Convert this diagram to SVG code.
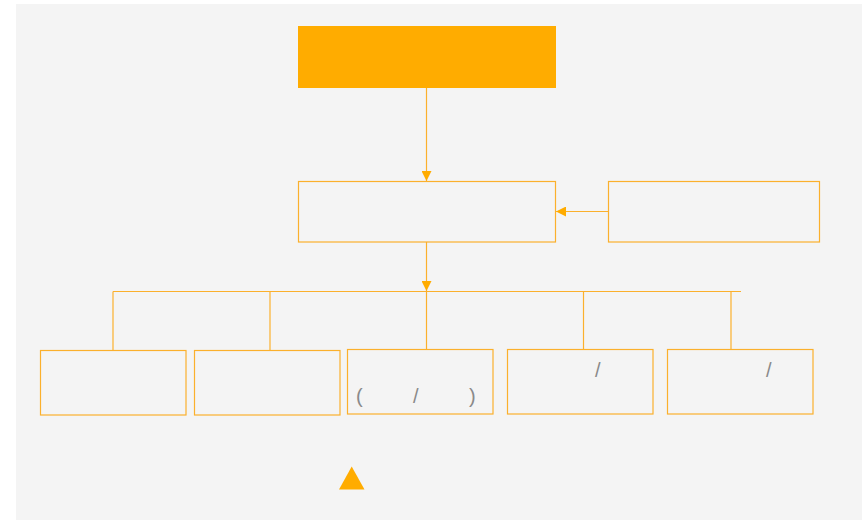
<svg xmlns="http://www.w3.org/2000/svg" width="862" height="520" viewBox="0 0 862 520">
<defs>
<style>
.box{fill:#f4f4f4;stroke:#fbb02c;stroke-width:1.2}
.ln{fill:none;stroke:#fbb02c;stroke-width:1.2}
.t{font-family:"Liberation Sans",Arial,"Noto Sans CJK SC",sans-serif;font-size:20px;fill:#8a8a8a}
</style>
<marker id="ah" viewBox="0 0 10 10" refX="10" refY="5" markerWidth="10" markerHeight="10" markerUnits="userSpaceOnUse" orient="auto">
<path d="M0,0 L10,5 L0,10 Z" fill="#ffac00"/>
</marker>
</defs>
<rect x="16" y="4" width="846" height="516" fill="#f4f4f4"/>
<g id="connectors">
<line class="ln" x1="426.5" y1="88" x2="426.5" y2="181" marker-end="url(#ah)"/>
<line class="ln" x1="608" y1="211.5" x2="556" y2="211.5" marker-end="url(#ah)"/>
<line class="ln" x1="426.5" y1="242" x2="426.5" y2="291" marker-end="url(#ah)"/>
<line class="ln" x1="113" y1="291.5" x2="741" y2="291.5"/>
<line class="ln" x1="113" y1="291.5" x2="113" y2="351"/>
<line class="ln" x1="270" y1="291.5" x2="270" y2="351"/>
<line class="ln" x1="426.5" y1="291.5" x2="426.5" y2="351"/>
<line class="ln" x1="583.5" y1="291.5" x2="583.5" y2="351"/>
<line class="ln" x1="731" y1="291.5" x2="731" y2="351"/>
</g>
<g id="top"><rect x="298" y="26" width="258" height="62" fill="#ffac00"/></g>
<g id="middle"><rect class="box" x="298.5" y="181.5" width="257" height="60.5"/></g>
<g id="right"><rect class="box" x="608.5" y="181.5" width="211" height="60.5"/></g>
<g id="b1"><rect class="box" x="40.5" y="350.5" width="145.5" height="64.5"/></g>
<g id="b2"><rect class="box" x="194.5" y="350.5" width="145.5" height="64.5"/></g>
<g id="b3"><rect class="box" x="347.5" y="349.5" width="145.5" height="64.5"/>
<text class="t" x="356" y="402.5">(</text><text class="t" x="413" y="402.5">/</text><text class="t" x="469" y="402.5">)</text></g>
<g id="b4"><rect class="box" x="507.5" y="349.5" width="145.5" height="64.5"/>
<text class="t" x="595" y="376.5">/</text></g>
<g id="b5"><rect class="box" x="667.5" y="349.5" width="145.5" height="64.5"/>
<text class="t" x="766" y="376.5">/</text></g>
<g id="marker"><polygon points="351.7,466.5 339,489.5 364.5,489.5" fill="#ffac00"/></g>
</svg>
